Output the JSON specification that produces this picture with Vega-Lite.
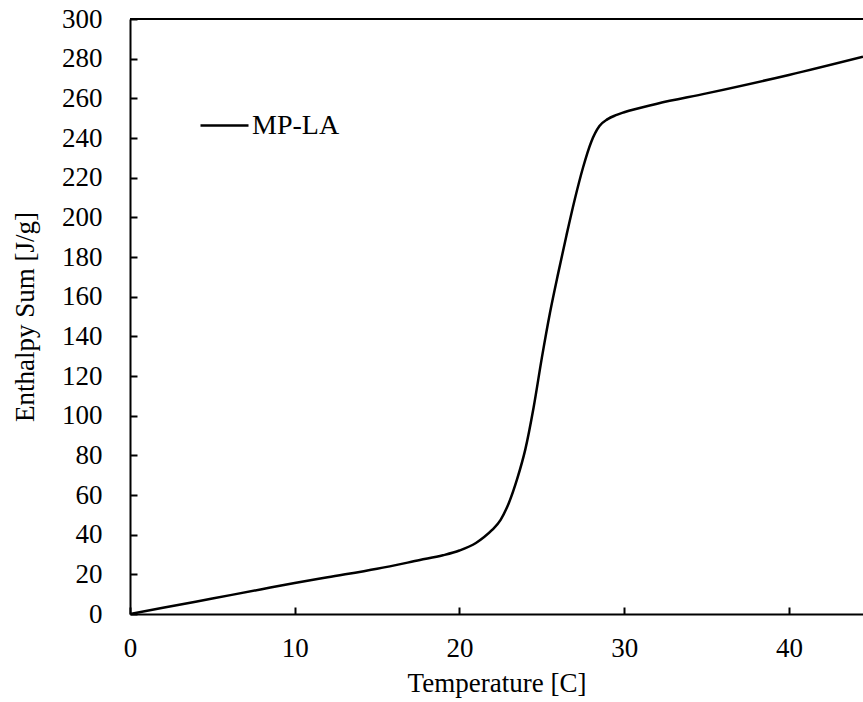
{
  "$schema": "https://vega.github.io/schema/vega-lite/v6.json",
  "autosize": "none",
  "width": 733,
  "height": 595,
  "padding": {"left": 130, "top": 19, "right": 0, "bottom": 88},
  "background": "white",
  "config": {
    "view": {"stroke": null},
    "font": "Liberation Serif",
    "axis": {
      "grid": false,
      "domainColor": "black",
      "domainWidth": 2,
      "tickColor": "black",
      "tickWidth": 2,
      "tickSize": -7,
      "labelColor": "black",
      "labelFont": "Liberation Serif",
      "labelFontSize": 27,
      "titleFont": "Liberation Serif",
      "titleFontSize": 27,
      "titleFontWeight": "normal",
      "titleColor": "black"
    }
  },
  "datasets": {
    "curve": [
      {"T": 0, "H": 0, "series": "MP-LA"},
      {"T": 2, "H": 3.1, "series": "MP-LA"},
      {"T": 5, "H": 7.8, "series": "MP-LA"},
      {"T": 8, "H": 12.5, "series": "MP-LA"},
      {"T": 10, "H": 15.6, "series": "MP-LA"},
      {"T": 12, "H": 18.5, "series": "MP-LA"},
      {"T": 15, "H": 22.8, "series": "MP-LA"},
      {"T": 17.6, "H": 27.2, "series": "MP-LA"},
      {"T": 19, "H": 29.6, "series": "MP-LA"},
      {"T": 20, "H": 32, "series": "MP-LA"},
      {"T": 21, "H": 35.8, "series": "MP-LA"},
      {"T": 21.5, "H": 38.8, "series": "MP-LA"},
      {"T": 22, "H": 42.5, "series": "MP-LA"},
      {"T": 22.5, "H": 47.5, "series": "MP-LA"},
      {"T": 23, "H": 56, "series": "MP-LA"},
      {"T": 23.5, "H": 68, "series": "MP-LA"},
      {"T": 24, "H": 83, "series": "MP-LA"},
      {"T": 24.5, "H": 104, "series": "MP-LA"},
      {"T": 25, "H": 129, "series": "MP-LA"},
      {"T": 25.5, "H": 152, "series": "MP-LA"},
      {"T": 26, "H": 172, "series": "MP-LA"},
      {"T": 26.5, "H": 191, "series": "MP-LA"},
      {"T": 27, "H": 209, "series": "MP-LA"},
      {"T": 27.5, "H": 225, "series": "MP-LA"},
      {"T": 28, "H": 238, "series": "MP-LA"},
      {"T": 28.5, "H": 246, "series": "MP-LA"},
      {"T": 29, "H": 249.5, "series": "MP-LA"},
      {"T": 29.5, "H": 251.5, "series": "MP-LA"},
      {"T": 30, "H": 253, "series": "MP-LA"},
      {"T": 32, "H": 257.3, "series": "MP-LA"},
      {"T": 35, "H": 262.5, "series": "MP-LA"},
      {"T": 40, "H": 271.8, "series": "MP-LA"},
      {"T": 44.5, "H": 281, "series": "MP-LA"}
    ],
    "border": [{"top": 300}]
  },
  "layer": [
    {
      "data": {"name": "curve"},
      "mark": {"type": "line", "interpolate": "monotone", "strokeWidth": 2.5, "clip": true},
      "encoding": {
        "x": {
          "field": "T",
          "type": "quantitative",
          "title": "Temperature [C]",
          "scale": {"domain": [0, 44.5], "nice": false, "zero": false},
          "axis": {"values": [0, 10, 20, 30, 40], "labelPadding": 28, "titlePadding": 9, "labelFlush": false, "labelOverlap": false}
        },
        "y": {
          "field": "H",
          "type": "quantitative",
          "title": "Enthalpy Sum [J/g]",
          "scale": {"domain": [0, 300], "nice": false},
          "axis": {"values": [0, 20, 40, 60, 80, 100, 120, 140, 160, 180, 200, 220, 240, 260, 280, 300], "labelPadding": 35, "titlePadding": 22, "labelFlush": false, "labelOverlap": false, "labelBound": false}
        },
        "color": {
          "field": "series",
          "type": "nominal",
          "scale": {"range": ["black"]},
          "legend": {
            "title": null,
            "orient": "none",
            "legendX": 69,
            "legendY": 81,
            "symbolType": "stroke",
            "symbolSize": 2304,
            "symbolStrokeWidth": 2.5,
            "labelFont": "Liberation Serif",
            "labelFontSize": 28,
            "labelColor": "black",
            "labelOffset": 2,
            "labelLimit": 300
          }
        }
      }
    },
    {
      "data": {"name": "border"},
      "mark": {"type": "rule", "color": "black", "strokeWidth": 2},
      "encoding": {
        "y": {
          "field": "top",
          "type": "quantitative",
          "title": "Enthalpy Sum [J/g]",
          "scale": {"domain": [0, 300], "nice": false},
          "axis": {"values": [0, 20, 40, 60, 80, 100, 120, 140, 160, 180, 200, 220, 240, 260, 280, 300], "labelPadding": 35, "titlePadding": 22, "labelFlush": false, "labelOverlap": false, "labelBound": false}
        }
      }
    }
  ]
}
